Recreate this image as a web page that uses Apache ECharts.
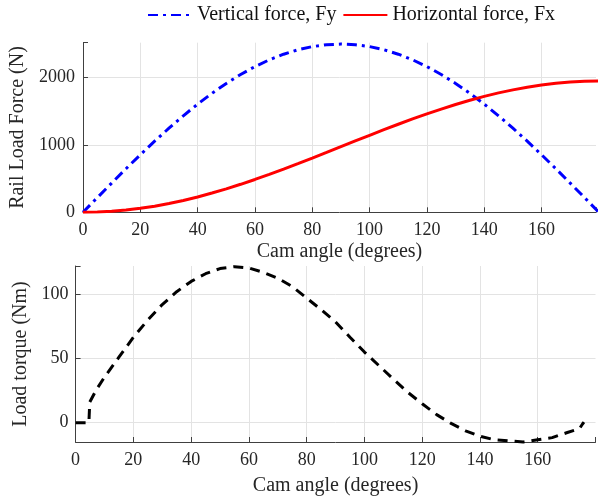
<!DOCTYPE html>
<html>
<head>
<meta charset="utf-8">
<title>Rail load force and load torque</title>
<script src="https://cdn.jsdelivr.net/npm/echarts@6/dist/echarts.min.js"></script>
<style>
  html, body { margin: 0; padding: 0; background: #fff; }
  #chart { width: 599px; height: 497px; }
</style>
</head>
<body>
<div id="chart"></div>
<script>
// cam angle (degrees) for the force curves
var forceAngles = [0, 5, 10, 15, 20, 25, 30, 35, 40, 45, 50, 55, 60, 65, 70, 75, 80, 85, 90,
  95, 100, 105, 110, 115, 120, 125, 130, 135, 140, 145, 150, 155, 160, 165, 170, 175, 180];
// vertical force Fy (N)
var verticalForce = [0, 218, 434, 647, 855, 1057, 1250, 1434, 1607, 1768, 1915, 2048, 2165, 2266, 2349, 2415, 2462, 2490, 2500,
  2490, 2462, 2415, 2349, 2266, 2165, 2048, 1915, 1768, 1607, 1434, 1250, 1057, 855, 647, 434, 218, 0];
// horizontal force Fx (N)
var horizontalForce = [0, 4, 15, 33, 59, 91, 131, 176, 228, 286, 348, 416, 488, 563, 642, 723, 806, 890, 975,
  1060, 1144, 1227, 1308, 1387, 1463, 1534, 1602, 1664, 1722, 1774, 1819, 1859, 1891, 1917, 1935, 1946, 1950];

// load torque curve
var torqueAngles = [0, 4.6, 4.9, 7, 10, 15, 20, 25, 30, 35, 40, 45, 50, 55, 60, 65, 70, 75, 80, 85, 90,
  95, 100, 105, 110, 115, 120, 125, 130, 135, 140, 145, 150, 155, 160, 165, 170, 174.5, 175.5, 176];
var torqueValues = [0, 0, 16, 25, 35.5, 51, 66.5, 80, 92, 102, 110, 116, 120, 121.5, 120.5, 117, 112.5, 106, 97, 88, 78.5,
  66.5, 55, 44.5, 34, 23.7, 14.8, 6.3, -0.5, -6.3, -10.5, -13.3, -14.1, -15, -13.2, -11.6, -7.8, -4.5, -1, 0.5];

var forceTicks = [0, 1000, 2000];
var torqueTicks = [0, 50, 100];

function pairs(xs, ys) {
  return xs.map(function (x, i) { return [x, ys[i]]; });
}

var textColor = "#262626";
var axisColor = "#404040";
var gridColor = "#e3e3e3";
var serif = "Liberation Serif";

function xAxisOpt(gridIndex, maxVal, nameGap) {
  return {
    type: "value",
    gridIndex: gridIndex,
    min: 0,
    max: maxVal,
    interval: 20,
    name: "Cam angle (degrees)",
    nameLocation: "middle",
    nameGap: nameGap,
    nameTextStyle: { fontFamily: serif, fontSize: 20, color: textColor },
    axisLine: { show: true, onZero: false, lineStyle: { color: axisColor, width: 1 } },
    axisTick: { show: true, inside: true, length: 5, lineStyle: { color: axisColor } },
    axisLabel: {
      margin: 9,
      fontFamily: serif, fontSize: 18, color: textColor,
      formatter: function (v) { return v % 20 === 0 && v < 179 ? String(v) : ""; }
    },
    splitLine: { show: true, showMinLine: false, showMaxLine: false, lineStyle: { color: gridColor, width: 1 } }
  };
}

function yAxisOpt(gridIndex, minVal, maxVal, ticks, name, nameGap, margin) {
  var step = ticks[1] - ticks[0];
  return {
    type: "value",
    gridIndex: gridIndex,
    min: minVal,
    max: maxVal,
    splitNumber: 3,
    name: name,
    nameLocation: "middle",
    nameRotate: 90,
    nameGap: nameGap,
    nameTextStyle: { fontFamily: serif, fontSize: 20, color: textColor },
    axisLine: { show: true, lineStyle: { color: axisColor, width: 1 } },
    axisTick: { show: true, inside: true, length: 5, lineStyle: { color: axisColor } },
    axisLabel: {
      margin: margin,
      fontFamily: serif, fontSize: 18, color: textColor,
      formatter: function (v) { return ticks.indexOf(v) >= 0 ? String(v) : ""; }
    },
    splitLine: { show: true, showMinLine: false, showMaxLine: false, lineStyle: { color: gridColor, width: 1 } },
    interval: minVal % step === 0 ? step : undefined
  };
}

var chart = echarts.init(document.getElementById("chart"), null, { renderer: "canvas" });

var option = {
  animation: false,
  backgroundColor: "#fff",
  legend: {
    data: ["Vertical force, Fy", "Horizontal force, Fx"],
    left: 147,
    top: 5,
    padding: 0,
    itemWidth: 44,
    itemHeight: 14,
    itemGap: 6,
    // hide the symbol in the legend icon, keep the line
    itemStyle: { opacity: 0 },
    textStyle: { fontFamily: serif, fontSize: 20, color: "#111" }
  },
  grid: [
    { left: 80, right: 0, top: 42.7, bottom: 284.7 },
    { left: 75.6, right: 3.5, top: 266, bottom: 53.5 }
  ],
  xAxis: [
    xAxisOpt(0, 179, 29),
    xAxisOpt(1, 180, 34)
  ],
  yAxis: [
    yAxisOpt(0, 0, 2520, forceTicks, "Rail Load Force (N)", 55, 8),
    yAxisOpt(1, -15, 122, torqueTicks, "Load torque (Nm)", 44, 7)
  ],
  series: [
    {
      name: "Vertical force, Fy",
      type: "line",
      xAxisIndex: 0, yAxisIndex: 0,
      symbol: "none",
      color: "#0000ff",
      lineStyle: { color: "#0000ff", width: 3, type: [10, 5, 3, 5] },
      data: pairs(forceAngles, verticalForce)
    },
    {
      name: "Horizontal force, Fx",
      type: "line",
      xAxisIndex: 0, yAxisIndex: 0,
      symbol: "none",
      color: "#ff0000",
      lineStyle: { color: "#ff0000", width: 3, type: "solid" },
      data: pairs(forceAngles, horizontalForce)
    },
    {
      name: "Load torque",
      type: "line",
      xAxisIndex: 1, yAxisIndex: 1,
      symbol: "none",
      color: "#000",
      clip: false,
      lineStyle: { color: "#000", width: 3, type: [10, 7] },
      data: pairs(torqueAngles, torqueValues)
    }
  ]
};

chart.setOption(option);
</script>
</body>
</html>
